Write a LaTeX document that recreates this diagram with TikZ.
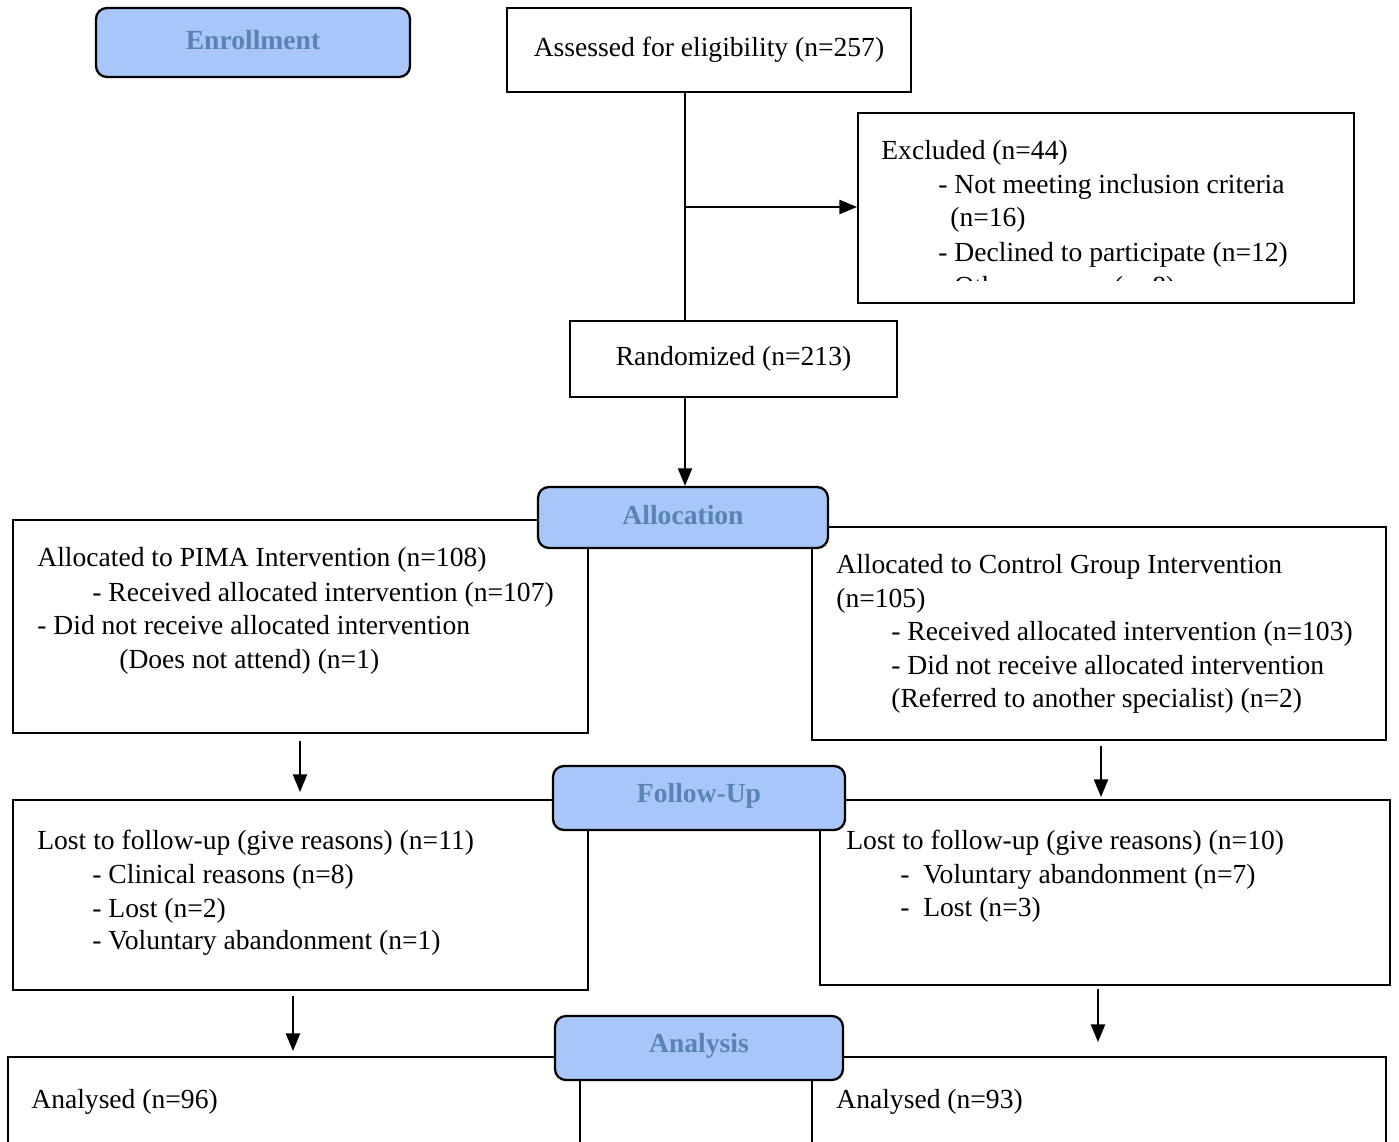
\documentclass[tikz,border=0pt]{standalone}
\usepackage{fontspec}
\setmainfont{Liberation Serif}
\usetikzlibrary{arrows.meta,fit}
\definecolor{hdrfill}{RGB}{168,198,248}
\definecolor{hdrtext}{RGB}{88,130,184}
\newcommand{\boxfont}{\fontsize{15.7}{18}\selectfont}
\tikzset{
    box/.style={draw, line width=1.1pt, inner sep=0pt, fill=white},
    hdr/.style={draw, line width=1.3pt, rounded corners=0.22cm, inner sep=0pt, fill=hdrfill},
    hdrtxt/.style={anchor=center, inner sep=0pt, text=hdrtext, font=\bfseries\boxfont},
    lbl/.style={anchor=center, inner sep=0pt, font=\boxfont},
    txt/.style={anchor=base west, inner sep=0pt, font=\boxfont},
    arr/.style={-{Triangle[length=10pt,width=8pt]}, line width=1.1pt}
}
\begin{document}
\begin{tikzpicture}[x=0.02cm, y=-0.02cm]
\useasboundingbox (0,0) rectangle (1399,1142);

% ===== Các ô chính =====
\node[box, fit={(507,8) (911,92)}] (assess) {};
\node[box, fit={(858,113) (1354,303)}] (excl) {};
\node[box, fit={(570,321) (897,397)}] (rand) {};
\node[box, fit={(13,520) (588,733)}] (pima) {};
\node[box, fit={(812,527) (1386,740)}] (ctrl) {};
\node[box, fit={(13,800) (588,990)}] (lostL) {};
\node[box, fit={(820,800) (1390,985)}] (lostR) {};
\node[box, fit={(8,1057) (580,1160)}] (anaL) {};
\node[box, fit={(812,1057) (1386,1160)}] (anaR) {};
\node[lbl] (assessT) at ([yshift=0.0cm]assess.center) {Assessed for eligibility (n=257)};
\node[lbl] (randT) at ([yshift=0.0cm]rand.center) {Randomized (n=213)};

% ===== Các ô tiêu đề =====
\foreach \n/\xa/\ya/\xb/\yb/\t in {
    enroll/96/8/410/77/Enrollment,
    alloc/538/487/828/548/Allocation,
    follow/553/766/845/830/Follow-Up,
    analysis/555/1016/843/1080/Analysis} {
    \node[hdr, fit={(\xa,\ya) (\xb,\yb)}] (\n) {};
    \node[hdrtxt] (\n T) at ([yshift=0.04cm]\n.center) {\t};
}

% ===== Chữ trong các ô =====
\foreach \n/\x/\y/\t in {
    exA/881/160/{Excluded (n=44)},
    exB/938/194/{- Not meeting inclusion criteria},
    exC/950/227/{(n=16)},
    exD/938/261/{- Declined to participate (n=12)},
    pimaA/37/566/{Allocated to PIMA Intervention (n=108)},
    pimaB/92/601/{- Received allocated intervention (n=107)},
    pimaC/37/634/{- Did not receive allocated intervention},
    pimaD/119/668/{(Does not attend) (n=1)},
    ctrlA/836/573/{Allocated to Control Group Intervention},
    ctrlB/836/607/{(n=105)},
    ctrlC/891/640/{- Received allocated intervention (n=103)},
    ctrlD/891/674/{- Did not receive allocated intervention},
    ctrlE/891/707/{(Referred to another specialist) (n=2)},
    lostLA/37/849/{Lost to follow-up (give reasons) (n=11)},
    lostLB/92/883/{- Clinical reasons (n=8)},
    lostLC/92/917/{- Lost (n=2)},
    lostLD/92/949/{- Voluntary abandonment (n=1)},
    lostRA/846/849/{Lost to follow-up (give reasons) (n=10)},
    lostRB/900/883/{-\ \ Voluntary abandonment (n=7)},
    lostRC/900/916/{-\ \ Lost (n=3)},
    anaLA/31/1108/{Analysed (n=96)},
    anaRA/836/1108/{Analysed (n=93)}} {
    \node[txt] (\n) at (\x,\y) {\t};
}
\begin{scope}
    \clip (858,113) rectangle (1354,280);
    \node[txt] (exE) at (938,296) {- Other reasons (n=8)};
\end{scope}

% ===== Mũi tên =====
\coordinate (split) at (685,207);
\draw[line width=1.1pt] (assess.south -| split) -- (rand.north -| split);
\draw[arr] (split) -- (excl.west |- split);
\draw[arr] (rand.south -| split) -- (alloc.north -| split);
\coordinate (colL) at (300,0);
\coordinate (colR) at (1101,0);
\draw[arr] (pima.south -| colL) ++(0,7) -- ([yshift=0.14cm]lostL.north -| colL);
\draw[arr] (ctrl.south -| colR) ++(0,5) -- ([yshift=0.04cm]lostR.north -| colR);
\coordinate (colL2) at (293,0);
\coordinate (colR2) at (1098,0);
\draw[arr] (lostL.south -| colL2) ++(0,5) -- ([yshift=0.1cm]anaL.north -| colL2);
\draw[arr] (lostR.south -| colR2) ++(0,3) -- ([yshift=0.28cm]anaR.north -| colR2);

\end{tikzpicture}
\end{document}
